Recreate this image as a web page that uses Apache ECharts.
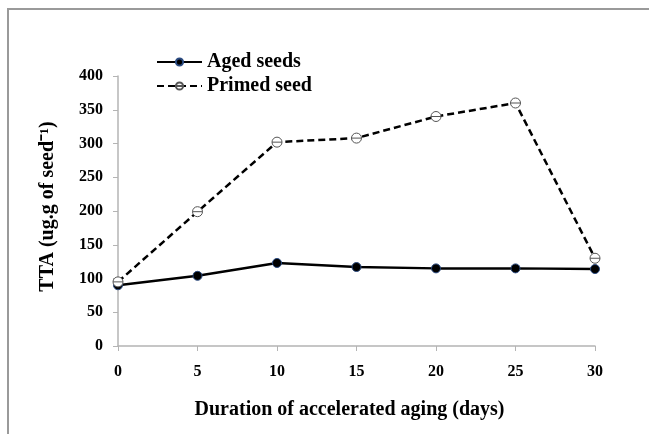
<!DOCTYPE html>
<html>
<head>
<meta charset="utf-8">
<script src="https://cdn.jsdelivr.net/npm/echarts@6/dist/echarts.min.js"></script>
<style>
html,body{margin:0;padding:0;background:#fff;}
#frame{position:absolute;left:7px;top:8px;width:642px;height:426px;border-left:2px solid #9a9a9a;border-top:2px solid #9a9a9a;box-sizing:border-box;}
#chart{position:absolute;left:0;top:0;width:649px;height:434px;}
</style>
</head>
<body>
<div id="frame"></div>
<div id="chart"></div>
<script>
const days = [0, 5, 10, 15, 20, 25, 30];
const agedSeeds = [90, 104, 123, 117, 115, 115, 114];
const primedSeed = [95, 199, 302, 308, 340, 360, 130];
const yTicks = [0, 50, 100, 150, 200, 250, 300, 350, 400];

const font = '"Liberation Serif", "Times New Roman", serif';
const chart = echarts.init(document.getElementById('chart'), null, {renderer: 'canvas'});
const ringSymbol = 'path://M0,10 A10,10 0 1,1 20,10 A10,10 0 1,1 0,10 Z M0,10 L20,10';

chart.setOption({
  backgroundColor: 'transparent',
  animation: false,
  grid: {left: 118, right: 54, top: 76, bottom: 88},
  legend: {
    orient: 'vertical',
    left: 156,
    top: 52,
    padding: 0,
    itemWidth: 45,
    itemHeight: 9,
    itemGap: 4,
    textStyle: {fontFamily: font, fontWeight: 'bold', fontSize: 20, lineHeight: 20, color: '#000'},
    data: ['Aged seeds', 'Primed seed']
  },
  xAxis: {
    type: 'value',
    min: 0, max: 30, interval: 5,
    name: 'Duration of accelerated aging (days)',
    nameLocation: 'middle',
    nameGap: 54,
    nameTextStyle: {fontFamily: font, fontWeight: 'bold', fontSize: 20, color: '#000', padding: [0, 14, 0, 0]},
    axisLine: {show: true, lineStyle: {color: '#b4b4b4', width: 1.5}},
    axisTick: {show: true, length: 5, inside: false, lineStyle: {color: '#b4b4b4'}},
    axisLabel: {fontFamily: font, fontWeight: 'bold', fontSize: 16, color: '#000', margin: 18},
    splitLine: {show: false}
  },
  yAxis: {
    type: 'value',
    min: 0, max: 400, interval: 50,
    name: 'TTA (ug.g of seed\u207B\u00B9)',
    nameLocation: 'middle',
    nameGap: 60,
    nameRotate: 90,
    nameTextStyle: {fontFamily: font, fontWeight: 'bold', fontSize: 20, color: '#000', padding: [0, 0, 0, 9]},
    axisLine: {show: true, lineStyle: {color: '#b4b4b4', width: 1.5}},
    axisTick: {show: true, length: 5, inside: false, lineStyle: {color: '#b4b4b4'}},
    axisLabel: {fontFamily: font, fontWeight: 'bold', fontSize: 16, color: '#000', margin: 15,
      formatter: v => yTicks.includes(v) ? String(v) : ''},
    splitLine: {show: false}
  },
  series: [
    {
      name: 'Aged seeds',
      type: 'line',
      data: days.map((d, i) => [d, agedSeeds[i]]),
      symbol: 'circle',
      symbolSize: 9,
      lineStyle: {color: '#000', width: 2.5, type: 'solid'},
      itemStyle: {color: '#000', borderColor: '#2a4a80', borderWidth: 1}
    },
    {
      name: 'Primed seed',
      type: 'line',
      data: days.map((d, i) => [d, primedSeed[i]]),
      symbol: ringSymbol,
      symbolSize: 10,
      lineStyle: {color: '#000', width: 2.5, type: [7, 4]},
      itemStyle: {color: '#fff', borderColor: '#555', borderWidth: 1}
    }
  ]
});
</script>
</body>
</html>
